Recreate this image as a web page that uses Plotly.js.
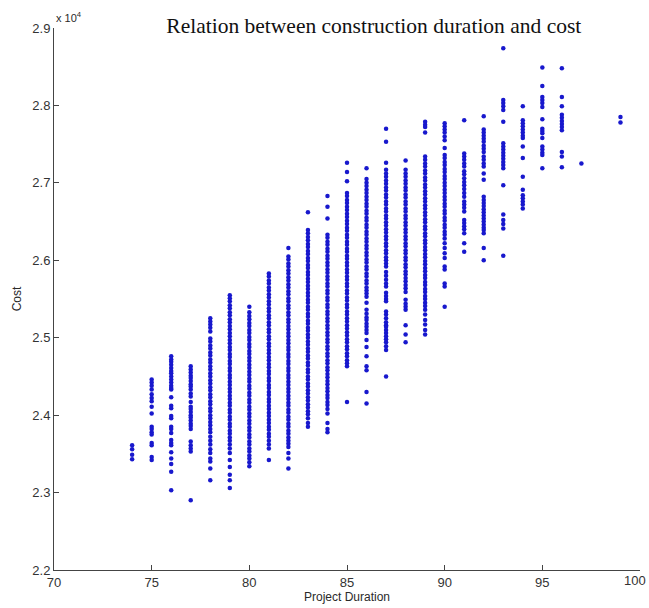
<!DOCTYPE html>
<html>
<head>
<meta charset="utf-8">
<script src="https://cdn.plot.ly/plotly-3.0.1.min.js"></script>
<style>
  html, body { margin: 0; padding: 0; background: #ffffff; }
  #chart { width: 649px; height: 608px; }
</style>
</head>
<body>
<div id="chart"></div>
<script>
// Project duration (days) for each group of simulated projects
const durations = [74, 75, 76, 77, 78, 79, 80, 81, 82, 83, 84, 85, 86, 87, 88, 89, 90, 91, 92, 93, 94, 95, 96, 97, 99];

// Cost of each simulated project, grouped by duration
const cost74 = [23610, 23560, 23490, 23430];
const cost75 = [24460, 24420, 24380, 24330, 24270, 24220, 24180, 24110, 24020, 23850, 23820, 23780, 23750, 23640, 23610, 23460, 23420];
const cost76 = [24760, 24720, 24690, 24650, 24610, 24570, 24540, 24500, 24460, 24420, 24380, 24350, 24330, 24230, 24120, 24090, 23990, 23960, 23850, 23820, 23770, 23680, 23640, 23610, 23520, 23440, 23370, 23270, 23030];
const cost77 = [24630, 24590, 24550, 24510, 24480, 24440, 24400, 24370, 24330, 24280, 24240, 24170, 24110, 24080, 24040, 24000, 23970, 23930, 23890, 23860, 23820, 23660, 23610, 23570, 23530, 22900];
const cost78 = [25250, 25210, 25170, 25130, 25080, 24990, 24950, 24900, 24860, 24810, 24770, 24720, 24680, 24630, 24590, 24540, 24500, 24450, 24410, 24360, 24320, 24270, 24230, 24180, 24140, 24090, 24050, 24000, 23960, 23910, 23870, 23820, 23780, 23720, 23670, 23620, 23560, 23510, 23440, 23400, 23310, 23160];
const cost79 = [25550, 25510, 25470, 25420, 25380, 25330, 25290, 25240, 25200, 25150, 25110, 25060, 25020, 24970, 24930, 24880, 24840, 24790, 24750, 24700, 24660, 24610, 24570, 24520, 24480, 24430, 24390, 24340, 24300, 24250, 24210, 24160, 24120, 24070, 24030, 23980, 23940, 23890, 23850, 23800, 23760, 23710, 23670, 23620, 23570, 23510, 23420, 23330, 23230, 23160, 23060];
const cost80 = [25400, 25330, 25280, 25240, 25190, 25150, 25100, 25060, 25010, 24970, 24920, 24880, 24830, 24790, 24740, 24700, 24650, 24610, 24560, 24520, 24470, 24430, 24380, 24340, 24290, 24250, 24200, 24160, 24110, 24070, 24020, 23980, 23930, 23890, 23840, 23800, 23750, 23710, 23660, 23620, 23570, 23530, 23480, 23440, 23390, 23340];
const cost81 = [25830, 25790, 25740, 25700, 25650, 25610, 25560, 25520, 25470, 25430, 25380, 25340, 25290, 25250, 25200, 25160, 25110, 25070, 25020, 24980, 24930, 24890, 24840, 24800, 24750, 24710, 24660, 24620, 24570, 24530, 24480, 24440, 24390, 24350, 24300, 24260, 24210, 24170, 24120, 24080, 24030, 23990, 23940, 23900, 23850, 23810, 23760, 23720, 23670, 23620, 23570, 23420];
const cost82 = [26160, 26050, 26010, 25960, 25920, 25870, 25830, 25780, 25740, 25690, 25650, 25600, 25560, 25510, 25470, 25420, 25380, 25330, 25290, 25240, 25200, 25150, 25110, 25060, 25020, 24970, 24930, 24880, 24840, 24790, 24750, 24700, 24660, 24610, 24570, 24520, 24480, 24430, 24390, 24340, 24300, 24250, 24210, 24160, 24120, 24070, 24030, 23980, 23940, 23890, 23850, 23800, 23760, 23710, 23670, 23630, 23590, 23510, 23440, 23310];
const cost83 = [26620, 26390, 26350, 26300, 26260, 26210, 26170, 26120, 26080, 26030, 25990, 25940, 25900, 25850, 25810, 25760, 25720, 25670, 25630, 25580, 25540, 25490, 25450, 25400, 25360, 25310, 25270, 25220, 25180, 25130, 25090, 25040, 25000, 24950, 24910, 24860, 24820, 24770, 24730, 24680, 24640, 24590, 24550, 24500, 24460, 24410, 24370, 24320, 24280, 24230, 24190, 24140, 24100, 24050, 24010, 23960, 23900, 23850];
const cost84 = [26830, 26690, 26540, 26330, 26290, 26240, 26200, 26150, 26110, 26060, 26020, 25970, 25930, 25880, 25840, 25790, 25750, 25700, 25660, 25610, 25570, 25520, 25480, 25430, 25390, 25340, 25300, 25250, 25210, 25160, 25120, 25070, 25030, 24980, 24940, 24890, 24850, 24800, 24760, 24710, 24670, 24620, 24580, 24530, 24490, 24440, 24400, 24350, 24310, 24260, 24220, 24170, 24130, 24080, 24020, 23900, 23820, 23780];
const cost85 = [27260, 27140, 27020, 26870, 26830, 26780, 26740, 26690, 26650, 26600, 26560, 26510, 26470, 26420, 26380, 26330, 26290, 26240, 26200, 26150, 26110, 26060, 26020, 25970, 25930, 25880, 25840, 25790, 25750, 25700, 25660, 25610, 25570, 25520, 25480, 25430, 25390, 25340, 25300, 25250, 25210, 25160, 25120, 25070, 25030, 24980, 24940, 24890, 24850, 24800, 24760, 24710, 24670, 24630, 24170];
const cost86 = [27190, 27050, 27000, 26960, 26910, 26870, 26820, 26780, 26730, 26690, 26640, 26600, 26550, 26510, 26460, 26420, 26370, 26330, 26280, 26240, 26190, 26150, 26100, 26060, 26010, 25970, 25920, 25880, 25830, 25790, 25740, 25700, 25650, 25610, 25570, 25530, 25450, 25360, 25310, 25260, 25230, 25180, 25140, 25100, 25060, 24970, 24880, 24760, 24630, 24580, 24300, 24150];
const cost87 = [27700, 27530, 27260, 27170, 27120, 27080, 27030, 26990, 26940, 26900, 26850, 26810, 26760, 26720, 26670, 26630, 26580, 26540, 26490, 26450, 26400, 26360, 26310, 26270, 26220, 26180, 26130, 26090, 26040, 26000, 25960, 25920, 25850, 25800, 25750, 25700, 25660, 25580, 25540, 25500, 25470, 25340, 25300, 25250, 25200, 25160, 25140, 25100, 25060, 25020, 24980, 24940, 24890, 24840, 24500];
const cost88 = [27290, 27170, 27120, 27080, 27030, 26990, 26940, 26900, 26850, 26810, 26760, 26720, 26670, 26630, 26580, 26540, 26490, 26450, 26400, 26360, 26310, 26270, 26220, 26180, 26130, 26090, 26040, 26000, 25950, 25910, 25860, 25820, 25770, 25730, 25680, 25640, 25590, 25490, 25440, 25400, 25360, 25160, 25040, 24940];
const cost89 = [27790, 27750, 27720, 27650, 27340, 27300, 27250, 27210, 27160, 27120, 27070, 27030, 26980, 26940, 26890, 26850, 26800, 26760, 26710, 26670, 26620, 26580, 26530, 26490, 26440, 26400, 26350, 26310, 26260, 26220, 26170, 26130, 26080, 26040, 25990, 25950, 25900, 25860, 25810, 25770, 25720, 25680, 25630, 25590, 25540, 25500, 25450, 25410, 25360, 25300, 25230, 25170, 25100, 25040];
const cost90 = [27770, 27730, 27690, 27650, 27600, 27550, 27450, 27360, 27320, 27270, 27230, 27180, 27140, 27090, 27050, 27000, 26960, 26910, 26870, 26820, 26780, 26730, 26690, 26640, 26600, 26550, 26510, 26460, 26420, 26370, 26330, 26280, 26220, 26160, 26090, 26030, 25920, 25880, 25700, 25660, 25400];
const cost91 = [27810, 27380, 27340, 27300, 27250, 27210, 27150, 27110, 27060, 27010, 26970, 26920, 26870, 26820, 26760, 26720, 26680, 26630, 26520, 26480, 26440, 26400, 26350, 26220, 26110];
const cost92 = [27860, 27690, 27650, 27610, 27570, 27530, 27480, 27440, 27400, 27340, 27300, 27250, 27210, 27120, 27040, 26820, 26780, 26740, 26700, 26660, 26620, 26580, 26540, 26500, 26460, 26420, 26390, 26350, 26160, 26000];
const cost93 = [28740, 28070, 28030, 27990, 27940, 27790, 27510, 27470, 27430, 27390, 27350, 27310, 27270, 27230, 27190, 26970, 26590, 26520, 26470, 26410, 26060];
const cost94 = [27990, 27810, 27770, 27730, 27690, 27650, 27610, 27580, 27470, 27320, 27080, 26910, 26840, 26800, 26760, 26720, 26670];
const cost95 = [28490, 28250, 28110, 28070, 28030, 27980, 27820, 27700, 27670, 27640, 27580, 27470, 27430, 27390, 27360, 27190];
const cost96 = [28480, 28110, 27990, 27880, 27840, 27800, 27760, 27720, 27680, 27400, 27340, 27200];
const cost97 = [27250];
const cost99 = [27850, 27780];

const costGroups = [cost74, cost75, cost76, cost77, cost78, cost79, cost80, cost81, cost82, cost83, cost84, cost85, cost86, cost87, cost88, cost89, cost90, cost91, cost92, cost93, cost94, cost95, cost96, cost97, cost99];

// Axis ticks (cost axis labelled in units of 10^4)
const xTicks = [70, 75, 80, 85, 90, 95, 100];
const xTickText = ['70', '75', '80', '85', '90', '95', '100'];
const yTicks = [22000, 23000, 24000, 25000, 26000, 27000, 28000, 29000];
const yTickText = ['2.2', '2.3', '2.4', '2.5', '2.6', '2.7', '2.8', '2.9'];

// Flatten the groups into one point cloud
const xs = [];
const ys = [];
durations.forEach((d, i) => {
  costGroups[i].forEach(c => { xs.push(d); ys.push(c); });
});

const axisFont = { family: 'Arial, "Liberation Sans", sans-serif', size: 13, color: '#333333' };
const labelFont = { family: 'Arial, "Liberation Sans", sans-serif', size: 12, color: '#2a2a2a' };

// The last x label sits at the right edge of the figure; it is drawn as an
// annotation nudged inward so it stays fully inside the page.
const lastX = xTicks[xTicks.length - 1];
const axisTickText = xTickText.map((t, i) => (xTicks[i] === lastX ? '' : t));

const trace = {
  type: 'scatter',
  mode: 'markers',
  x: xs,
  y: ys,
  marker: { color: 'rgb(24,24,205)', size: 4.5, line: { width: 0 } },
  hoverinfo: 'x+y',
  showlegend: false
};

const layout = {
  width: 649,
  height: 608,
  paper_bgcolor: '#ffffff',
  plot_bgcolor: '#ffffff',
  margin: { l: 54, r: 9, t: 28, b: 38, pad: 0 },
  title: {
    text: 'Relation between construction duration and cost',
    font: { family: '"Times New Roman", "Liberation Serif", serif', size: 21.5, color: '#111111' },
    xref: 'container', x: 0.576, xanchor: 'center',
    yref: 'container', y: 1 - 25 / 608, yanchor: 'middle'
  },
  xaxis: {
    range: [70, 100],
    tickmode: 'array',
    tickvals: xTicks,
    ticktext: axisTickText,
    ticks: 'inside',
    ticklen: 5,
    tickwidth: 1,
    tickcolor: '#444444',
    showline: true,
    linecolor: '#444444',
    linewidth: 1,
    showgrid: false,
    zeroline: false,
    mirror: false,
    tickfont: axisFont,
    title: { text: 'Project Duration', font: labelFont, standoff: 4 }
  },
  yaxis: {
    range: [22000, 29000],
    tickmode: 'array',
    tickvals: yTicks,
    ticktext: yTickText,
    ticks: 'inside',
    ticklen: 5,
    tickwidth: 1,
    tickcolor: '#444444',
    showline: true,
    linecolor: '#444444',
    linewidth: 1,
    showgrid: false,
    zeroline: false,
    mirror: false,
    ticklabeloverflow: 'allow',
    tickfont: axisFont,
    title: { text: 'Cost', font: labelFont, standoff: 8 }
  },
  annotations: [
    {
      text: 'x 10<sup>4</sup>',
      xref: 'paper', yref: 'paper',
      x: 0, y: 1,
      xanchor: 'left', yanchor: 'bottom',
      xshift: 0, yshift: 2,
      showarrow: false,
      font: { family: 'Arial, "Liberation Sans", sans-serif', size: 11, color: '#2a2a2a' }
    },
    {
      text: xTickText[xTickText.length - 1],
      xref: 'x', yref: 'paper',
      x: lastX, y: 0,
      xanchor: 'right', yanchor: 'top',
      xshift: 8, yshift: -1,
      showarrow: false,
      font: axisFont
    }
  ]
};

Plotly.newPlot('chart', [trace], layout, { displayModeBar: false, staticPlot: true });
</script>
</body>
</html>
